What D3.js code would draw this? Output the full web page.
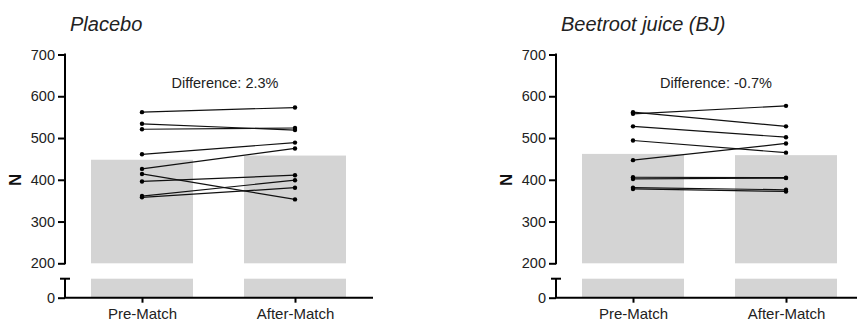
<!DOCTYPE html>
<html>
<head>
<meta charset="utf-8">
<script src="https://cdn.jsdelivr.net/npm/d3@7"></script>
<style>
html,body{margin:0;padding:0;background:#fff;}
svg{display:block;font-family:"Liberation Sans",Arial,sans-serif;}
</style>
</head>
<body>
<svg id="chart" width="857" height="322"></svg>
<script>
const categories = ["Pre-Match", "After-Match"];
const yTicks = [200, 300, 400, 500, 600, 700];
const lowTicks = [0];

const placeboTitle = "Placebo";
const placeboDiff = "Difference: 2.3%";
const placeboMeans = [448, 458];
const placeboPre  = [562, 534, 521, 461, 426, 414, 396, 361, 358];
const placeboPost = [573, 519, 524, 489, 475, 353, 411, 399, 381];

const bjTitle = "Beetroot juice (BJ)";
const bjDiff = "Difference: -0.7%";
const bjMeans = [462, 459];
const bjPre  = [562, 558, 528, 494, 447, 406, 402, 381, 378];
const bjPost = [528, 577, 502, 465, 487, 405, 404, 376, 372];

const svg = d3.select("#chart");

function drawPanel(axisX, title, diff, means, pre, post) {
  const g = svg.append("g").attr("transform", `translate(${axisX},0)`);
  const yUp = d3.scaleLinear().domain([200, 700]).range([263.3, 54.5]);
  const yLow = d3.scaleLinear().domain([0, 45]).range([297.7, 278.7]);
  const x = d3.scalePoint().domain(categories).range([77, 230]);
  const bw = 102;

  g.selectAll("rect.up").data(means).join("rect")
    .attr("x", (d, i) => x(categories[i]) - bw / 2)
    .attr("width", bw)
    .attr("y", d => yUp(d))
    .attr("height", d => yUp(200) - yUp(d))
    .attr("fill", "#d4d4d4");
  g.selectAll("rect.low").data(means).join("rect")
    .attr("x", (d, i) => x(categories[i]) - bw / 2)
    .attr("width", bw)
    .attr("y", d => yLow(Math.min(d, 45)))
    .attr("height", d => yLow(0) - yLow(Math.min(d, 45)))
    .attr("fill", "#d4d4d4");

  const pairs = pre.map((v, i) => [v, post[i]]);
  g.selectAll("line.pair").data(pairs).join("line")
    .attr("x1", x(categories[0])).attr("x2", x(categories[1]))
    .attr("y1", d => yUp(d[0])).attr("y2", d => yUp(d[1]))
    .attr("stroke", "#111").attr("stroke-width", 1.2);
  g.selectAll("circle.pre").data(pre).join("circle")
    .attr("cx", x(categories[0])).attr("cy", d => yUp(d)).attr("r", 2.2).attr("fill", "#000");
  g.selectAll("circle.post").data(post).join("circle")
    .attr("cx", x(categories[1])).attr("cy", d => yUp(d)).attr("r", 2.2).attr("fill", "#000");

  const ax = g.append("g").call(d3.axisLeft(yUp).tickValues(yTicks).tickSize(7).tickPadding(3).tickSizeOuter(0));
  ax.select(".domain").remove();
  ax.append("line").attr("x1", 0).attr("x2", 0).attr("y1", yUp(700) - 1).attr("y2", yUp(200) + 1)
    .attr("stroke", "#000").attr("stroke-width", 2);
  ax.selectAll(".tick line").attr("stroke", "#000").attr("stroke-width", 2);
  ax.selectAll(".tick text").attr("font-size", 14.5).attr("fill", "#222")
    .attr("font-family", "Liberation Sans, Arial, sans-serif");

  const axl = g.append("g").call(d3.axisLeft(yLow).tickValues(lowTicks).tickSize(7).tickPadding(3).tickSizeOuter(0));
  axl.select(".domain").remove();
  axl.append("line").attr("x1", 0).attr("x2", 0).attr("y1", yLow(45)).attr("y2", yLow(0))
    .attr("stroke", "#000").attr("stroke-width", 2);
  axl.append("line").attr("x1", -5).attr("x2", 5).attr("y1", yLow(45)).attr("y2", yLow(45))
    .attr("stroke", "#000").attr("stroke-width", 2);
  axl.selectAll(".tick line").attr("stroke", "#000").attr("stroke-width", 2);
  axl.selectAll(".tick text").attr("font-size", 14.5).attr("fill", "#222")
    .attr("font-family", "Liberation Sans, Arial, sans-serif");

  const xa = g.append("g").attr("transform", `translate(0,${yLow(0)})`)
    .call(d3.axisBottom(x).tickSize(5).tickPadding(6).tickSizeOuter(0));
  xa.select(".domain").remove();
  xa.append("line").attr("x1", -1).attr("x2", 308).attr("y1", 0).attr("y2", 0)
    .attr("stroke", "#000").attr("stroke-width", 2);
  xa.selectAll(".tick line").attr("stroke", "#000").attr("stroke-width", 2);
  xa.selectAll(".tick text").attr("font-size", 15).attr("fill", "#222")
    .attr("font-family", "Liberation Sans, Arial, sans-serif");

  g.append("text").attr("transform", `translate(-44,${yUp(400)}) rotate(-90)`)
    .attr("text-anchor", "middle").attr("font-size", 17).attr("fill", "#111")
    .attr("font-weight", "bold").text("N");

  g.append("text").attr("x", 5).attr("y", 30.5).attr("font-size", 20)
    .attr("font-style", "italic").attr("fill", "#222").text(title);

  g.append("text").attr("x", 160).attr("y", 87.5).attr("text-anchor", "middle")
    .attr("font-size", 14.5).attr("fill", "#222").text(diff);
}

drawPanel(65, placeboTitle, placeboDiff, placeboMeans, placeboPre, placeboPost);
drawPanel(556, bjTitle, bjDiff, bjMeans, bjPre, bjPost);
</script>
</body>
</html>
